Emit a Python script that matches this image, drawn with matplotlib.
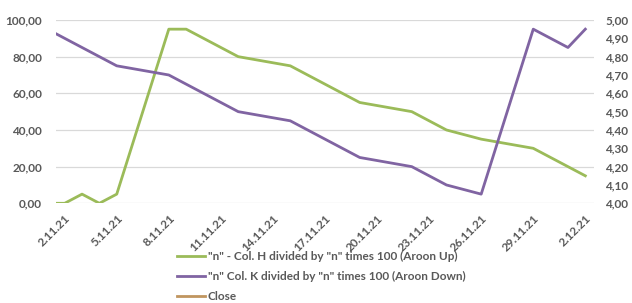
import matplotlib
matplotlib.use("Agg")
from matplotlib import pyplot as plt
import matplotlib.dates as mdates
import numpy as np

# sample times (first sample sits half a day before 2.11.21)
dates = np.array(["2021-11-01T12:00", "2021-11-02", "2021-11-03", "2021-11-04",
                  "2021-11-05", "2021-11-08", "2021-11-09", "2021-11-12",
                  "2021-11-15", "2021-11-19", "2021-11-22", "2021-11-24",
                  "2021-11-26", "2021-11-29", "2021-12-02"], dtype="datetime64[m]")
aroon_up = [0, 0, 5, 0, 5, 95, 95, 80, 75, 55, 50, 40, 35, 30, 15]

down_dates = np.array(["2021-11-01T12:00", "2021-11-05", "2021-11-08", "2021-11-12",
                       "2021-11-15", "2021-11-19", "2021-11-22", "2021-11-24",
                       "2021-11-26", "2021-11-29", "2021-12-01", "2021-12-02"],
                      dtype="datetime64[m]")
aroon_down = [92.5, 75, 70, 50, 45, 25, 20, 10, 5, 95, 85, 95]

close = []  # close series falls outside the visible right-axis range

tick_dates = np.arange(np.datetime64("2021-11-02"), np.datetime64("2021-12-03"),
                       np.timedelta64(3, "D"))

label_up = '"n" - Col. H divided by "n" times 100 (Aroon Up)'
label_down = '"n" Col. K divided by "n" times 100 (Aroon Down)'
label_close = "Close"

txt = "#595959"
plt.rcParams["font.family"] = ["Lato", "DejaVu Sans"]
plt.rcParams["font.weight"] = "bold"

fig = plt.figure(figsize=(6.32, 3.03), dpi=100)
ax = fig.add_axes([56 / 632, 1 - 203.3 / 303, (594 - 56) / 632, (203.3 - 20) / 303])
ax2 = ax.twinx()

l1, = ax.plot(dates.astype("datetime64[s]").astype(object), aroon_up,
              color="#9bbb59", lw=2.0, solid_joinstyle="round")
l2, = ax.plot(down_dates.astype("datetime64[s]").astype(object), aroon_down,
              color="#8064a2", lw=2.0, solid_joinstyle="round")
l3, = ax2.plot([], close, color="#c0955f", lw=2.0)

ax.set_xlim(mdates.date2num(np.datetime64("2021-11-01T12:00")),
            mdates.date2num(np.datetime64("2021-12-02T12:00")))
ax.set_ylim(0, 100)
ax.set_yticks(np.arange(0, 101, 20))
ax.set_yticklabels([f"{v:.2f}".replace(".", ",") for v in np.arange(0, 101, 20)])
ax2.set_ylim(4, 5)
rt = np.arange(4.0, 5.001, 0.1)
ax2.set_yticks(rt)
ax2.set_yticklabels([f"{v:.2f}".replace(".", ",") for v in rt])

ax.set_xticks(mdates.date2num(tick_dates))
ax.set_xticklabels([f"{d.day}.{d.month}.{d.year % 100}" for d in tick_dates.astype(object)],
                   rotation=45, ha="right", rotation_mode="anchor")

ax.grid(axis="y", color="#d9d9d9", lw=0.9)
ax.set_axisbelow(True)
for a in (ax, ax2):
    for s in a.spines.values():
        s.set_visible(False)
    a.tick_params(length=0, labelsize=8.5, labelcolor=txt)
ax.tick_params(axis="y", pad=10)
ax.tick_params(axis="x", pad=7)
ax2.tick_params(axis="y", pad=8)

fig.legend([l1, l2, l3], [label_up, label_down, label_close],
           loc="upper left", bbox_to_anchor=(177 / 632, 1 - 251 / 303),
           frameon=False, fontsize=8.5, handlelength=2.4, handletextpad=0.2,
           labelspacing=0.75, borderaxespad=0, borderpad=0, labelcolor=txt)

fig.savefig("out.png", dpi=100)
